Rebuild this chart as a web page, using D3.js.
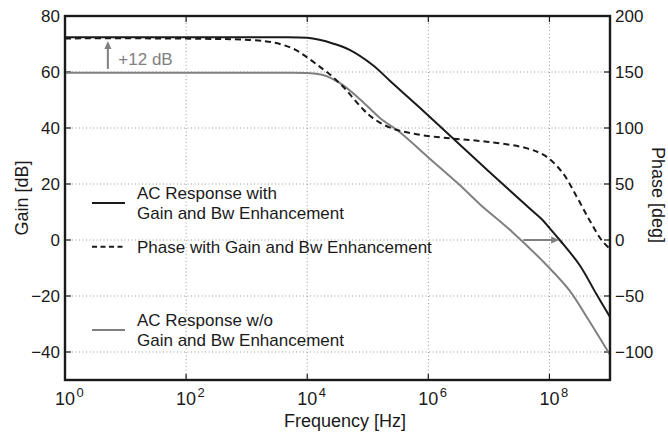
<!DOCTYPE html>
<html lang="en">
<head>
<meta charset="UTF-8">
<title>Gain and phase</title>
<script src="https://d3js.org/d3.v7.min.js"></script>
<style>
    body { margin: 0; background: #fff; }
    svg text { font-family: "Liberation Sans", Arial, sans-serif; fill: #1a1a1a; }
</style>
</head>
<body>
<script>
    // values; frequency given as log10(Hz)
    const gainWithLogF = [0, 2.0, 3.5, 4.0, 4.2, 4.42, 4.7, 5.08, 5.36, 5.86, 6.07, 7.0, 7.67, 7.87, 8.0, 8.17, 8.5, 8.78, 9.0];
    const gainWithDb = [72.4, 72.4, 72.4, 72.2, 71.5, 70.2, 67.9, 62.5, 57.0, 47.2, 43.0, 24.5, 11.3, 7.5, 4.3, 0, -9, -19.5, -27.5];

    const gainWoLogF = [0, 2.0, 3.5, 4.0, 4.26, 4.54, 4.87, 5.2, 5.53, 6.0, 6.5, 6.85, 7.39, 8.0, 8.33, 8.66, 9.0];
    const gainWoDb = [59.7, 59.7, 59.7, 59.6, 58.9, 56.0, 50.3, 43.6, 38.5, 29.5, 20, 12.8, 2.8, -10.0, -18, -29, -41];

    const phaseLogF = [0, 1.5, 2.5, 2.9, 3.3, 3.55, 3.8, 4.0, 4.2, 4.37, 4.59, 4.9, 5.08, 5.36, 5.74, 6.35, 6.96, 7.62, 7.95, 8.22, 8.45, 8.66, 8.86, 9.0];
    const phaseDeg = [180, 180, 179.5, 179, 177.5, 175, 170, 163, 155, 148, 137, 118, 109, 100.5, 95, 90.8, 87.8, 82, 74.4, 59.8, 38.7, 17.9, 0, -8];

    const freqTicks = [0, 2, 4, 6, 8];
    const gainTicks = [-40, -20, 0, 20, 40, 60, 80];
    const phaseTicks = [-100, -50, 0, 50, 100, 150, 200];

    const legendItems = [
        { lines: ["AC Response with", "Gain and Bw Enhancement"], key: "with", gain: 13.2 },
        { lines: ["Phase with Gain and Bw Enhancement"], key: "phase", gain: -2.4 },
        { lines: ["AC Response w/o", "Gain and Bw Enhancement"], key: "wo", gain: -32.1 }
    ];

    const width = 668;
    const height = 437;
    const margin = { top: 16, right: 58, bottom: 57, left: 65 };
    const black = "#1a1a1a";
    const gray = "#808080";

    const svg = d3.select("body").append("svg").attr("width", width).attr("height", height);

    const x = d3.scaleLog().domain([1, 1e9]).range([margin.left, width - margin.right]);
    const yGain = d3.scaleLinear().domain([-50, 80]).range([height - margin.bottom, margin.top]);
    const yPhase = d3.scaleLinear().domain([-125, 200]).range([height - margin.bottom, margin.top]);

    const x0 = margin.left, x1 = width - margin.right;
    const y0 = height - margin.bottom, y1 = margin.top;

    // grid
    const grid = svg.append("g").attr("stroke", "#9a9a9a").attr("stroke-width", 1).attr("stroke-dasharray", "1,2.5");
    freqTicks.slice(1).forEach(e => {
        grid.append("line").attr("x1", x(10 ** e)).attr("x2", x(10 ** e)).attr("y1", y1).attr("y2", y0);
    });
    gainTicks.slice(0, -1).forEach(v => {
        grid.append("line").attr("x1", x0).attr("x2", x1).attr("y1", yGain(v)).attr("y2", yGain(v));
    });

    // inward ticks
    const ticks = svg.append("g").attr("stroke", black).attr("stroke-width", 1.2);
    freqTicks.slice(1).forEach(e => {
        ticks.append("line").attr("x1", x(10 ** e)).attr("x2", x(10 ** e)).attr("y1", y0).attr("y2", y0 - 6);
        ticks.append("line").attr("x1", x(10 ** e)).attr("x2", x(10 ** e)).attr("y1", y1).attr("y2", y1 + 6);
    });
    gainTicks.forEach(v => {
        ticks.append("line").attr("x1", x0).attr("x2", x0 + 6).attr("y1", yGain(v)).attr("y2", yGain(v));
    });
    phaseTicks.forEach(v => {
        ticks.append("line").attr("x1", x1).attr("x2", x1 - 6).attr("y1", yPhase(v)).attr("y2", yPhase(v));
    });

    // curves
    const toPts = (fs, vs) => fs.map((e, i) => [10 ** e, vs[i]]);
    const curve = d3.curveCatmullRom.alpha(0.5);
    const lineGain = d3.line().x(d => x(d[0])).y(d => yGain(d[1])).curve(curve);
    const linePhase = d3.line().x(d => x(d[0])).y(d => yPhase(d[1])).curve(curve);

    svg.append("path").datum(toPts(gainWoLogF, gainWoDb)).attr("d", lineGain)
        .attr("fill", "none").attr("stroke", gray).attr("stroke-width", 2);
    svg.append("path").datum(toPts(phaseLogF, phaseDeg)).attr("d", linePhase)
        .attr("fill", "none").attr("stroke", black).attr("stroke-width", 2).attr("stroke-dasharray", "6,4");
    svg.append("path").datum(toPts(gainWithLogF, gainWithDb)).attr("d", lineGain)
        .attr("fill", "none").attr("stroke", black).attr("stroke-width", 2);

    // frame
    svg.append("rect").attr("x", x0).attr("y", y1).attr("width", x1 - x0).attr("height", y0 - y1)
        .attr("fill", "none").attr("stroke", black).attr("stroke-width", 2.4);

    // tick labels
    const fmt = v => (v < 0 ? "\u2212" + Math.abs(v) : "" + v);
    gainTicks.forEach(v => {
        svg.append("text").attr("x", x0 - 5).attr("y", yGain(v) + 6).attr("text-anchor", "end")
            .attr("font-size", 17).text(fmt(v));
    });
    phaseTicks.forEach(v => {
        svg.append("text").attr("x", x1 + 5).attr("y", yPhase(v) + 6).attr("text-anchor", "start")
            .attr("font-size", 17).text(fmt(v));
    });
    freqTicks.forEach(e => {
        svg.append("text").attr("x", x(10 ** e)).attr("y", y0 + 25).attr("text-anchor", "middle")
            .attr("font-size", 18).text("10");
        svg.append("text").attr("x", x(10 ** e) + 11.5).attr("y", y0 + 17).attr("font-size", 13).text(e);
    });

    // axis titles
    svg.append("text").attr("transform", `translate(345,${height - 10})`).attr("text-anchor", "middle")
        .attr("font-size", 18).text("Frequency [Hz]");
    svg.append("text").attr("transform", `translate(28,${(y0 + y1) / 2})rotate(-90)`).attr("text-anchor", "middle")
        .attr("font-size", 18).text("Gain [dB]");
    svg.append("text").attr("transform", `translate(652,${(y0 + y1) / 2 - 3})rotate(90)`).attr("text-anchor", "middle")
        .attr("font-size", 18).text("Phase [deg]");

    // legend
    legendItems.forEach(item => {
        const cy = yGain(item.gain);
        const stroke = item.key === "wo" ? gray : black;
        svg.append("line").attr("x1", 92).attr("x2", 125).attr("y1", cy).attr("y2", cy)
            .attr("stroke", stroke).attr("stroke-width", 2)
            .attr("stroke-dasharray", item.key === "phase" ? "5,3.5" : null);
        const n = item.lines.length;
        item.lines.forEach((s, j) => {
            svg.append("text").attr("x", 137).attr("y", cy + 6 + (j - (n - 1) / 2) * 19.5)
                .attr("font-size", 17).text(s);
        });
    });

    // annotations
    const arrowHead = (g, xa, ya, dir) => {
        const pts = dir === "up" ? [[xa, ya], [xa - 3.5, ya + 8], [xa + 3.5, ya + 8]]
            : [[xa, ya], [xa - 8, ya - 3.5], [xa - 8, ya + 3.5]];
        g.append("polygon").attr("points", pts.map(p => p.join(",")).join(" ")).attr("fill", gray);
    };
    const ann = svg.append("g");
    ann.append("line").attr("x1", x(5.1)).attr("x2", x(5.1)).attr("y1", yGain(61.1)).attr("y2", yGain(69))
        .attr("stroke", gray).attr("stroke-width", 2);
    arrowHead(ann, x(5.1), yGain(71.1), "up");
    ann.append("text").attr("x", x(7.6)).attr("y", yGain(62.6)).attr("font-size", 17)
        .style("fill", gray).text("+12 dB");
    ann.append("line").attr("x1", x(3.7e7)).attr("x2", x(1.2e8)).attr("y1", yGain(0)).attr("y2", yGain(0))
        .attr("stroke", gray).attr("stroke-width", 2);
    arrowHead(ann, x(1.45e8), yGain(0), "right");
</script>
</body>
</html>
